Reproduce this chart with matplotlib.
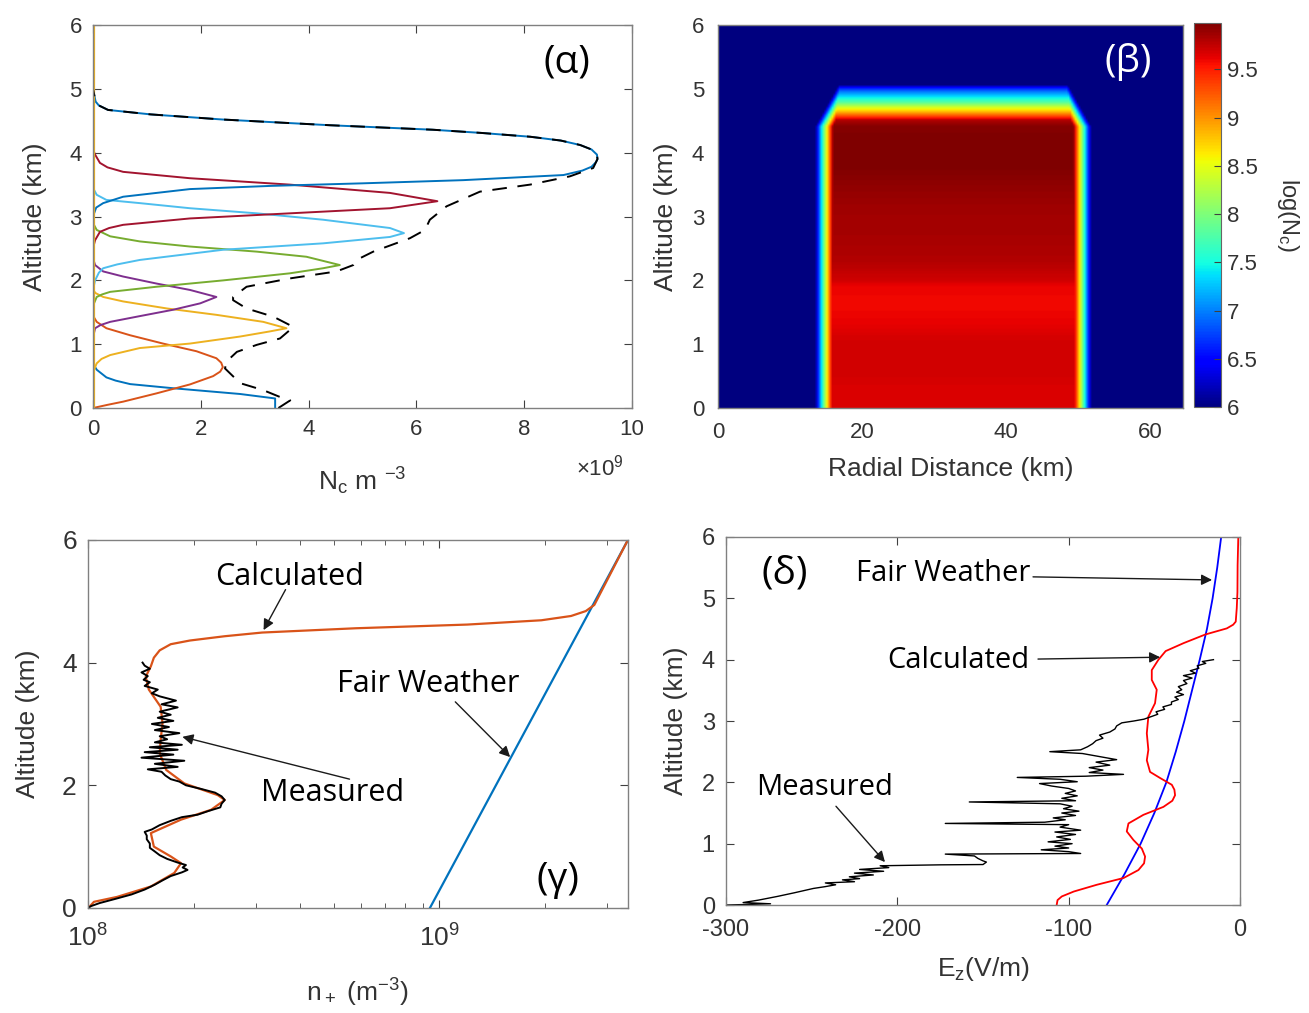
import numpy as np
import matplotlib
matplotlib.use("Agg")
from matplotlib import pyplot as plt

plt.rcParams["font.family"] = ["Liberation Sans", "DejaVu Sans"]
plt.rcParams["mathtext.default"] = "regular"
plt.rcParams["axes.unicode_minus"] = False
NOTE_FONT = ["Open Sans", "DejaVu Sans"]

# MATLAB default line colours
C_BLUE = (0.0, 0.447, 0.741)
C_ORANGE = (0.85, 0.325, 0.098)
C_YELLOW = (0.929, 0.694, 0.125)
C_PURPLE = (0.494, 0.184, 0.556)
C_GREEN = (0.466, 0.674, 0.188)
C_LBLUE = (0.301, 0.745, 0.933)
C_DRED = (0.635, 0.078, 0.184)

# ---- (alpha) charge density per layer, altitude km / N_c in 1e9 m^-3
layer_colors = [C_BLUE, C_ORANGE, C_YELLOW, C_PURPLE, C_GREEN, C_LBLUE, C_DRED, C_BLUE]
layer_alt = [
    [0, 0.15, 0.22, 0.31, 0.375, 0.43, 0.48, 0.6, 0.7],
    [0, 0.05, 0.10, 0.23, 0.37, 0.50, 0.57, 0.64, 0.71, 0.78, 0.89, 1.01, 1.14, 1.25, 1.35,
     1.42, 1.5],
    [0.45, 0.6, 0.7, 0.77, 0.83, 0.94, 1.01, 1.12, 1.20, 1.25, 1.35, 1.46, 1.56, 1.67, 1.74,
     1.80, 1.85],
    [1.1, 1.25, 1.30, 1.35, 1.44, 1.54, 1.64, 1.74, 1.85, 1.95, 2.06, 2.14, 2.24, 2.35],
    [1.6, 1.74, 1.78, 1.82, 1.90, 2.0, 2.11, 2.19, 2.24, 2.37, 2.45, 2.53, 2.61, 2.69, 2.79, 2.9],
    [1.85, 2.0, 2.12, 2.19, 2.25, 2.32, 2.48, 2.58, 2.68, 2.74, 2.82, 2.95, 3.05, 3.13, 3.21,
     3.26, 3.34, 3.45],
    [2.5, 2.63, 2.76, 2.82, 2.87, 2.97, 3.05, 3.13, 3.24, 3.37, 3.50, 3.60, 3.70, 3.77, 3.84,
     3.97, 4.05],
    [3.0, 3.14, 3.21, 3.31, 3.43, 3.48, 3.52, 3.57, 3.65, 3.72, 3.78, 3.85, 3.90, 3.97, 4.05,
     4.12, 4.19, 4.25, 4.31, 4.36, 4.43, 4.52, 4.60, 4.67, 4.74, 4.80, 5.0],
]
layer_n = [
    [3.38, 3.38, 2.73, 1.49, 0.69, 0.42, 0.25, 0.07, 0.0],
    [0, 0.27, 0.56, 1.18, 1.8, 2.23, 2.36, 2.41, 2.38, 2.29, 1.92, 1.30, 0.69, 0.25, 0.07,
     0.02, 0],
    [0, 0.02, 0.07, 0.16, 0.32, 0.87, 1.8, 2.73, 3.28, 3.59, 3.16, 2.29, 1.37, 0.56, 0.19,
     0.05, 0],
    [0, 0.04, 0.14, 0.32, 0.87, 1.49, 1.99, 2.29, 1.8, 1.18, 0.56, 0.19, 0.04, 0],
    [0, 0.07, 0.17, 0.32, 1.18, 2.42, 3.65, 4.27, 4.58, 3.96, 3.04, 1.80, 0.87, 0.32, 0.07, 0],
    [0, 0.04, 0.11, 0.19, 0.45, 0.87, 2.42, 4.27, 5.51, 5.77, 5.51, 4.27, 3.04, 1.80, 0.87,
     0.25, 0.07, 0],
    [0, 0.04, 0.13, 0.30, 0.56, 1.8, 3.65, 5.51, 6.39, 5.51, 3.65, 1.8, 0.56, 0.27, 0.13,
     0.04, 0],
    [0, 0.06, 0.19, 0.56, 1.8, 3.3, 5.0, 6.87, 8.73, 9.08, 9.25, 9.33, 9.36, 9.35, 9.25,
     9.04, 8.68, 8.11, 7.2, 6.3, 4.4, 2.4, 1.07, 0.28, 0.11, 0.05, 0],
]
total_alt = [0, 0.12, 0.18, 0.28, 0.39, 0.62, 0.73, 0.88, 0.99, 1.09, 1.27, 1.43, 1.56, 1.69,
             1.74, 1.90, 2.03, 2.14, 2.24, 2.32, 2.45, 2.66, 2.79, 2.95, 3.16, 3.39, 3.50,
             3.63, 3.76, 3.90, 3.97, 4.05, 4.12, 4.19, 4.25, 4.31, 4.36, 4.43, 4.52, 4.60,
             4.67, 4.74, 4.80, 5.0, 6.0]
total_n = [3.44, 3.66, 3.45, 3.16, 2.73, 2.45, 2.48, 2.67, 3.04, 3.47, 3.72, 3.35, 2.85, 2.60,
           2.60, 2.85, 3.65, 4.52, 4.83, 4.89, 5.20, 5.88, 6.16, 6.25, 6.56, 7.18, 8.11,
           8.85, 9.28, 9.36, 9.35, 9.25, 9.04, 8.68, 8.11, 7.2, 6.3, 4.4, 2.4, 1.07,
           0.28, 0.11, 0.05, 0, 0]

# ---- (beta) log10(N_c) in the cloud core against altitude, and cloud wall geometry
core_alt = [0, 0.3, 0.6, 0.9, 1.1, 1.3, 1.6, 1.9, 2.0, 2.3, 2.7, 3.1, 3.5, 3.8, 4.2, 4.4,
            4.5, 4.55, 4.62, 4.7, 4.78, 4.86, 4.94, 5.0, 5.05, 6.0]
core_logn = [9.66, 9.66, 9.7, 9.7, 9.68, 9.62, 9.58, 9.6, 9.7, 9.8, 9.84, 9.86, 9.92, 9.98,
             9.98, 9.95, 9.8, 9.4, 8.9, 8.4, 7.8, 7.4, 7.0, 6.6, 6.0, 6.0]
wall_left_out = 13.5     # km, where log N drops to 6
wall_right_out = 51.8
wall_ramp = 1.6          # log units per km across the wall
wall_bend_alt = 4.4      # km, top corners start bevelling
wall_bend_slope = 5.0    # km inward per km of altitude

# ---- (gamma) positive ion density
meas_alt = [0.00, 0.03, 0.08, 0.15, 0.22, 0.30, 0.38, 0.45, 0.52, 0.58, 0.62, 0.66, 0.70, 0.74,
            0.80, 0.86, 0.92, 0.98, 1.05, 1.12, 1.18, 1.24, 1.28, 1.35, 1.42, 1.48, 1.52, 1.58,
            1.64, 1.70, 1.76, 1.82, 1.88, 1.94, 2.00, 2.06, 2.10, 2.16, 2.22, 2.26, 2.30, 2.35,
            2.40, 2.45, 2.50, 2.54, 2.58, 2.62, 2.66, 2.70, 2.75, 2.80, 2.85, 2.90, 2.95, 3.00,
            3.05, 3.10, 3.15, 3.20, 3.27, 3.32, 3.38, 3.45, 3.50, 3.56, 3.62, 3.68, 3.72, 3.78,
            3.84, 3.90, 3.95, 4.00]
meas_n = [1.00e8, 1.02e8, 1.08e8, 1.20e8, 1.33e8, 1.45e8, 1.55e8, 1.63e8, 1.72e8, 1.85e8,
          1.92e8, 1.86e8, 1.90e8, 1.80e8, 1.68e8, 1.60e8, 1.55e8, 1.50e8, 1.50e8, 1.47e8,
          1.47e8, 1.45e8, 1.52e8, 1.60e8, 1.72e8, 1.85e8, 2.05e8, 2.20e8, 2.38e8, 2.40e8,
          2.45e8, 2.40e8, 2.30e8, 2.10e8, 1.90e8, 1.82e8, 1.72e8, 1.66e8, 1.62e8, 1.48e8,
          1.80e8, 1.55e8, 1.88e8, 1.42e8, 1.75e8, 1.45e8, 1.80e8, 1.50e8, 1.85e8, 1.55e8,
          1.68e8, 1.60e8, 1.82e8, 1.55e8, 1.70e8, 1.52e8, 1.75e8, 1.58e8, 1.72e8, 1.60e8,
          1.80e8, 1.62e8, 1.78e8, 1.60e8, 1.52e8, 1.58e8, 1.45e8, 1.50e8, 1.44e8, 1.48e8,
          1.42e8, 1.50e8, 1.45e8, 1.43e8]
calc_alt = [0.0, 0.02, 0.10, 0.18, 0.35, 0.57, 0.73, 0.84, 1.0, 1.22, 1.44, 1.60, 1.76, 1.84,
            2.03, 2.25, 2.52, 2.74, 3.01, 3.28, 3.56, 3.77, 3.94, 4.08, 4.20, 4.30, 4.36,
            4.43, 4.49, 4.56, 4.62, 4.69, 4.76, 4.84, 4.94, 6.0]
calc_n = [1.0e8, 1.01e8, 1.04e8, 1.21e8, 1.51e8, 1.76e8, 1.84e8, 1.72e8, 1.54e8, 1.51e8,
          1.84e8, 2.24e8, 2.45e8, 2.34e8, 1.88e8, 1.67e8, 1.60e8, 1.61e8, 1.63e8, 1.61e8,
          1.49e8, 1.46e8, 1.51e8, 1.54e8, 1.60e8, 1.72e8, 1.95e8, 2.45e8, 3.13e8, 5.79e8,
          1.2e9, 1.95e9, 2.37e9, 2.61e9, 2.76e9, 3.44e9]
fair_alt = [0.0, 6.0]
fair_n = [9.4e8, 3.44e9]

# ---- (delta) vertical electric field, V/m
ez_meas_alt = [0.0, 0.02, 0.04, 0.08, 0.14, 0.2, 0.27, 0.30, 0.33, 0.36, 0.38, 0.41, 0.43,
               0.46, 0.49, 0.52, 0.55, 0.58, 0.61, 0.64, 0.655, 0.66, 0.70, 0.72, 0.76, 0.80,
               0.83, 0.84, 0.87, 0.9, 0.93, 0.96, 1.0, 1.03, 1.07, 1.11, 1.15, 1.19, 1.22,
               1.27, 1.31, 1.33, 1.35, 1.39, 1.42, 1.46, 1.50, 1.53, 1.57, 1.61, 1.65, 1.68,
               1.70, 1.74, 1.78, 1.82, 1.86, 1.90, 1.94, 1.98, 2.01, 2.05, 2.08, 2.10, 2.13,
               2.16, 2.2, 2.24, 2.28, 2.33, 2.37, 2.42, 2.47, 2.5, 2.53, 2.58, 2.63, 2.68,
               2.72, 2.77, 2.82, 2.87, 2.92, 2.97, 3.0, 3.03, 3.07, 3.11, 3.15, 3.19, 3.23,
               3.27, 3.31, 3.35, 3.39, 3.43, 3.47, 3.51, 3.56, 3.61, 3.66, 3.7, 3.74, 3.78,
               3.82, 3.86, 3.9, 3.94, 3.97, 4.0]
ez_meas = [-299, -274, -290, -281, -270, -260, -249, -242, -236, -242, -225, -232, -222,
           -228, -214, -225, -208, -222, -205, -210, -175, -150, -148, -150, -153, -155,
           -172, -93, -100, -116, -100, -108, -98, -112, -99, -107, -96, -108, -93,
           -105, -100, -172, -114, -102, -109, -96, -104, -94, -103, -98, -105, -158,
           -96, -104, -95, -102, -96, -100, -110, -117, -95, -105, -130, -90, -68,
           -88, -80, -88, -76, -84, -72, -82, -92, -111, -93, -89, -86, -84,
           -80, -82, -76, -73, -72, -69, -62, -56, -52, -48, -49, -44, -45,
           -40, -40, -36, -38, -33, -37, -34, -36, -31, -33, -28, -33, -26,
           -29, -24, -25, -20, -22, -15.5]
ez_calc_alt = [0.0, 0.08, 0.14, 0.22, 0.33, 0.44, 0.57, 0.68, 0.79, 0.92, 1.06, 1.20, 1.33,
               1.47, 1.60, 1.70, 1.79, 1.88, 1.96, 2.07, 2.17, 2.36, 2.53, 2.80, 3.07, 3.29,
               3.51, 3.67, 3.83, 4.0, 4.14, 4.27, 4.41, 4.51, 4.57, 4.62, 4.84, 5.1, 5.54, 6.0]
ez_calc = [-107, -106.5, -104, -97, -83.6, -68, -59.3, -56, -55.4, -57.3, -62.2, -66.1,
           -65.1, -56.4, -44.7, -39.5, -37.9, -38.3, -39.8, -46.6, -52.5, -54.4, -53.5,
           -54.4, -53.5, -49.6, -48.6, -51.5, -51.5, -47.6, -43.4, -32.9, -20.3, -7.7,
           -4.0, -2.5, -1.9, -1.5, -1.4, -1.0]
ez_fair_alt = [0, 0.5, 1, 1.5, 2, 2.5, 3, 3.5, 4, 4.5, 5, 5.5, 6]
ez_fair = [-77.8, -67.5, -58, -50, -43, -37.5, -32.5, -28, -23.5, -19.3, -16, -13.3, -11]


def style_axes(ax, size=16):
    """MATLAB-like box with inward ticks on all sides."""
    ax.tick_params(which="both", direction="in", top=True, right=True, pad=8,
                   labelsize=size, colors="0.25", labelcolor="0.2")
    ax.tick_params(which="major", length=6)
    ax.tick_params(which="minor", length=3.5)
    for s in ax.spines.values():
        s.set_color("0.5")
        s.set_linewidth(1.0)


def arrow(ax, start, tip):
    ax.annotate("", xy=tip, xytext=start,
                arrowprops=dict(arrowstyle="-|>", color="0.1", lw=1.0,
                                mutation_scale=16, shrinkA=0, shrinkB=0))


fig = plt.figure(figsize=(13.09, 10.13), dpi=100)

# ---------------- (alpha)
ax = fig.add_axes([0.0710, 0.5972, 0.4118, 0.3781])
for alt, n, c in zip(layer_alt, layer_n, layer_colors):
    ax.plot(n, alt, color=c, lw=1.4)
ax.plot([0.02, 0.02], [0, 6], color=C_YELLOW, lw=1.6)
ax.plot(total_n, total_alt, color="k", lw=1.4, dashes=(7.5, 5.5))
ax.set_xlim(0, 10)
ax.set_ylim(0, 6)
ax.set_xticks(range(0, 11, 2))
ax.set_yticks(range(0, 7))
style_axes(ax)
ax.set_xlabel(r"N$_c$ m $^{-3}$", fontsize=19, color="0.2", labelpad=18)
ax.set_ylabel("Altitude (km)", fontsize=19, color="0.2", labelpad=16)
fig.text(600 / 1309, 1 - 468 / 1013, r"$\times$10$^{9}$", fontsize=16, color="0.2",
         ha="center", va="center")
ax.text(8.79, 5.42, "(α)", fontsize=28, family=NOTE_FONT, ha="center", va="center")

# ---------------- (beta)
ax = fig.add_axes([0.5485, 0.5972, 0.3552, 0.3781])
r = np.arange(0, 64.5, 0.25) + 0.125
z = np.arange(0, 6, 0.02) + 0.01
R, Z = np.meshgrid(r, z)
core = np.interp(z, core_alt, core_logn)[:, None]
shrink = np.clip(Z - wall_bend_alt, 0, None) * wall_bend_slope
left = wall_ramp * (R - (wall_left_out + shrink))
right = wall_ramp * ((wall_right_out - shrink) - R)
field = np.clip(np.minimum(core, 6 + np.minimum(left, right)), 6, None)
im = ax.imshow(field, extent=[0, 64.5, 0, 6], origin="lower", aspect="auto",
               cmap="jet", vmin=6, vmax=9.98, interpolation="bilinear")
ax.set_xlim(0, 64.5)
ax.set_ylim(0, 6)
ax.set_xticks([0, 20, 40, 60])
ax.set_yticks(range(0, 7))
style_axes(ax)
ax.tick_params(which="both", top=False, right=False, length=0, pad=10)
ax.set_xlabel("Radial Distance (km)", fontsize=19, color="0.2", labelpad=10)
ax.set_ylabel("Altitude (km)", fontsize=19, color="0.2", labelpad=10)
ax.text(56.9, 5.42, "(β)", fontsize=28, family=NOTE_FONT, color="white",
        ha="center", va="center")

cax = fig.add_axes([0.9122, 0.5982, 0.0206, 0.3791])
cb = fig.colorbar(im, cax=cax)
cb.set_ticks([6, 6.5, 7, 7.5, 8, 8.5, 9, 9.5])
cb.set_ticklabels(["6", "6.5", "7", "7.5", "8", "8.5", "9", "9.5"])
cax.tick_params(direction="in", length=5, pad=4, labelsize=16, colors="0.25",
                labelcolor="0.2")
cb.outline.set_edgecolor("0.4")
cax.text(3.5, 0.5, r"log(N$_c$)", rotation=270, fontsize=17, color="0.2",
         transform=cax.transAxes, ha="center", va="center")

# ---------------- (gamma)
ax = fig.add_axes([0.0672, 0.1037, 0.4125, 0.3633])
ax.plot(fair_n, fair_alt, color=C_BLUE, lw=1.6)
ax.plot(calc_n, calc_alt, color=C_ORANGE, lw=1.6)
ax.plot(meas_n, meas_alt, color="k", lw=1.4)
ax.set_xscale("log")
ax.set_xlim(1e8, 3.44e9)
ax.set_ylim(0, 6)
ax.set_yticks([0, 2, 4, 6])
style_axes(ax, size=19)
ax.tick_params(axis="x", pad=12)
ax.set_xlabel(r"n$_+$ (m$^{-3}$)", fontsize=19, color="0.2", labelpad=18)
ax.set_ylabel("Altitude (km)", fontsize=19, color="0.2", labelpad=16)
ax.text(3.75e8, 5.40, "Calculated", fontsize=22, family=NOTE_FONT, ha="center", va="center")
arrow(ax, (3.65e8, 5.19), (3.16e8, 4.53))
ax.text(9.27e8, 3.65, "Fair Weather", fontsize=22, family=NOTE_FONT, ha="center", va="center")
arrow(ax, (1.11e9, 3.36), (1.59e9, 2.46))
ax.text(4.97e8, 1.88, "Measured", fontsize=22, family=NOTE_FONT, ha="center", va="center")
arrow(ax, (5.55e8, 2.10), (1.856e8, 2.79))
ax.text(2.17e9, 0.46, "(γ)", fontsize=28, family=NOTE_FONT, ha="center", va="center")

# ---------------- (delta)
ax = fig.add_axes([0.5546, 0.1066, 0.3927, 0.3633])
ax.plot(ez_fair, ez_fair_alt, color="blue", lw=1.3)
ax.plot(ez_calc, ez_calc_alt, color="red", lw=1.3)
ax.plot(ez_meas, ez_meas_alt, color="k", lw=1.0)
ax.set_xlim(-300, 0)
ax.set_ylim(0, 6)
ax.set_xticks([-300, -200, -100, 0])
ax.set_yticks(range(0, 7))
style_axes(ax, size=17)
ax.tick_params(axis="x", pad=10)
ax.set_xlabel(r"E$_z$(V/m)", fontsize=19, color="0.2", labelpad=10)
ax.set_ylabel("Altitude (km)", fontsize=19, color="0.2", labelpad=10)
ax.text(-265.6, 5.41, "(δ)", fontsize=28, family=NOTE_FONT, ha="center", va="center")
ax.text(-173.3, 5.41, "Fair Weather", fontsize=21, family=NOTE_FONT, ha="center", va="center")
arrow(ax, (-120.8, 5.35), (-16.3, 5.30))
ax.text(-164.6, 3.99, "Calculated", fontsize=21, family=NOTE_FONT, ha="center", va="center")
arrow(ax, (-117.9, 4.01), (-46.6, 4.04))
ax.text(-242.2, 1.91, "Measured", fontsize=21, family=NOTE_FONT, ha="center", va="center")
arrow(ax, (-235.8, 1.61), (-207.2, 0.70))

fig.savefig("out.png", dpi=100)
